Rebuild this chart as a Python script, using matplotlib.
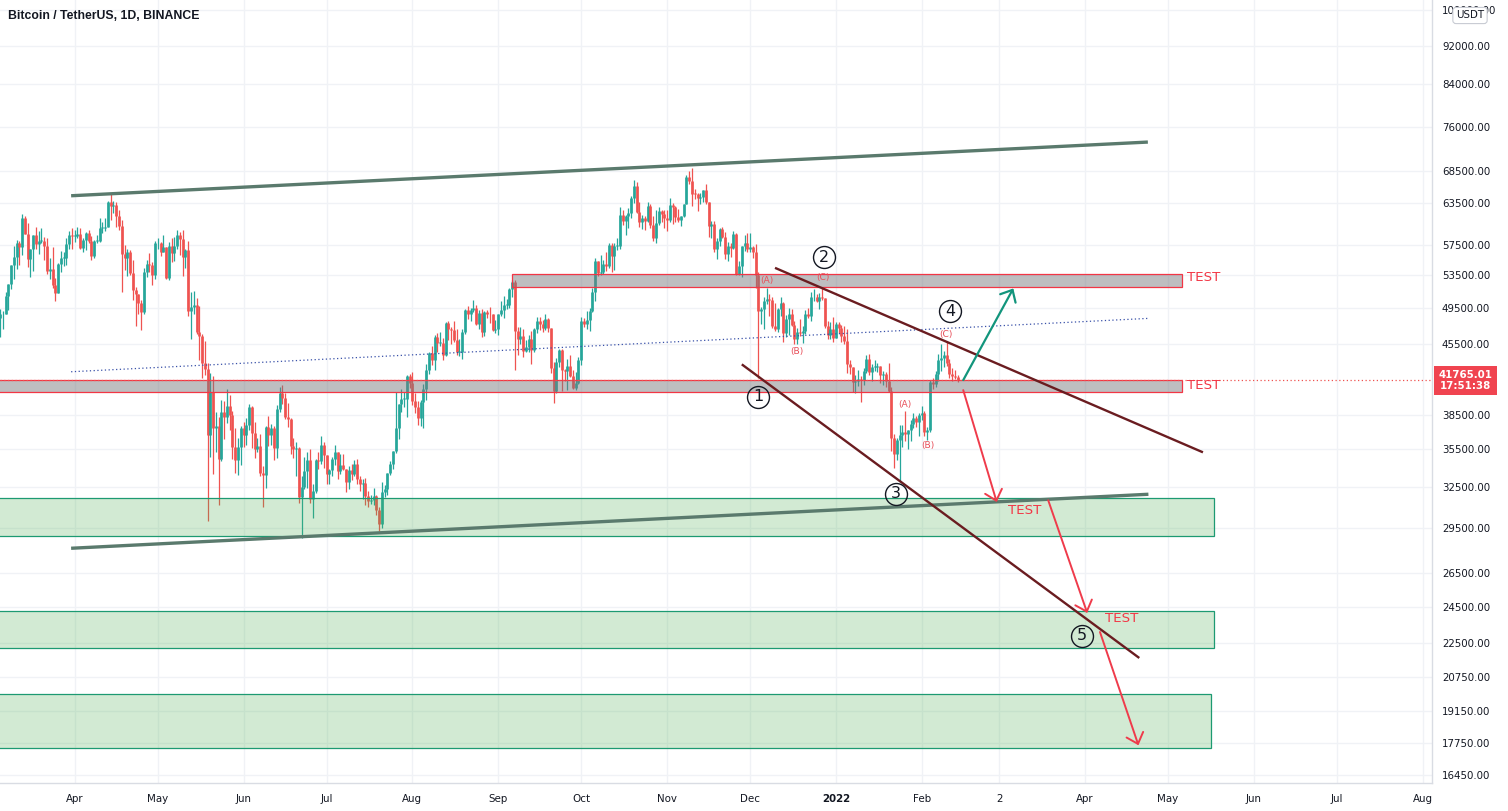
import numpy as np
import pandas as pd
import matplotlib
matplotlib.use("Agg")
import matplotlib.pyplot as plt
from matplotlib.patches import Rectangle
from matplotlib.ticker import NullLocator, NullFormatter

# ---------------- data (daily BTC/USDT, prices in thousands USDT) ----------------
start_date = "2021-03-05"
ref_date = "2021-04-01"   # x = days since this date

opens = [
    # Mar 5-31
    48.4, 48.8, 48.9, 51.0, 52.4, 54.9, 55.9, 57.8, 57.2, 61.2, 59.0, 55.6, 56.9, 58.9, 57.6, 58.0, 58.1, 57.4, 54.1, 54.3, 52.3, 51.3, 55.0, 55.8, 55.8, 57.6, 58.8,
    # Apr
    58.7, 58.7, 59.0, 57.1, 58.2, 59.1, 58.0, 56.0, 58.1, 58.1, 59.8, 59.9, 60.0, 63.6, 63.0, 63.2, 61.5, 60.1, 56.3, 55.7, 56.5, 53.8, 51.7, 51.2, 50.1, 49.1, 54.0, 55.0, 54.9, 53.6,
    # May
    57.7, 57.8, 56.6, 57.2, 53.2, 57.4, 56.4, 57.4, 58.8, 58.3, 55.9, 56.8, 49.2, 49.7, 49.9, 46.8, 46.4, 43.5, 42.9, 36.7, 40.6, 37.3, 37.5, 34.7, 38.8, 38.3, 39.3, 38.5, 35.7, 34.6, 35.7,
    # Jun
    37.3, 36.7, 37.6, 39.2, 36.9, 35.5, 35.8, 33.6, 33.4, 37.4, 36.7, 37.3, 35.6, 39.0, 40.5, 40.1, 38.3, 38.1, 35.8, 35.5, 35.6, 31.7, 32.5, 33.7, 34.6, 31.6, 32.2, 34.6, 34.5, 35.9,
    # Jul
    35.0, 33.5, 33.8, 34.7, 35.3, 33.7, 34.2, 33.9, 32.9, 33.8, 33.5, 34.3, 33.1, 32.7, 32.8, 31.8, 31.4, 31.5, 31.8, 30.8, 29.8, 32.1, 32.3, 33.6, 34.3, 35.4, 37.3, 39.5, 40.0, 40.0, 42.2,
    # Aug
    41.5, 39.8, 39.2, 38.2, 39.7, 40.9, 42.8, 44.6, 43.8, 46.3, 45.6, 45.6, 44.4, 47.8, 47.1, 47.0, 45.9, 44.7, 44.7, 46.8, 49.3, 48.9, 49.3, 49.5, 47.7, 49.0, 46.8, 49.1, 48.9, 48.8, 47.0,
    # Sep
    47.2, 48.8, 49.3, 49.9, 49.9, 51.8, 52.7, 46.9, 46.1, 46.4, 44.8, 45.2, 46.0, 44.9, 47.1, 48.1, 47.7, 47.3, 48.3, 47.3, 43.0, 40.7, 43.6, 44.9, 42.8, 42.7, 43.2, 42.2, 41.0, 41.5,
    # Oct
    43.8, 48.1, 47.7, 48.2, 49.2, 51.5, 55.3, 53.8, 54.0, 55.0, 54.7, 57.5, 56.0, 57.4, 57.4, 61.7, 60.9, 61.5, 62.0, 64.3, 66.0, 62.2, 60.7, 61.3, 60.9, 63.1, 60.3, 58.5, 60.6, 62.3, 61.9,
    # Nov
    61.3, 61.0, 63.2, 62.9, 61.4, 61.0, 61.5, 63.3, 67.5, 66.9, 64.9, 64.8, 64.2, 64.4, 65.5, 63.6, 60.1, 60.4, 56.9, 58.1, 59.7, 58.6, 56.3, 57.3, 57.1, 59.0, 53.7, 54.7, 57.3, 57.8,
    # Dec
    57.0, 57.2, 56.5, 53.6, 49.2, 49.4, 50.4, 50.6, 50.5, 47.5, 47.1, 49.4, 50.1, 46.7, 48.3, 48.9, 47.6, 46.1, 46.8, 46.7, 46.9, 48.9, 48.6, 50.8, 50.8, 50.4, 50.8, 50.7, 47.5, 46.5, 47.1,
    # Jan 2022
    46.2, 47.7, 47.3, 46.4, 45.8, 43.4, 43.1, 41.6, 41.7, 41.9, 41.8, 42.7, 43.9, 42.6, 43.1, 43.1, 43.2, 42.3, 42.4, 41.7, 40.7, 36.5, 35.1, 36.3, 36.7, 37.0, 36.8, 37.2, 37.7, 38.2, 37.9,
    # Feb 1-14
    38.5, 38.7, 37.0, 37.2, 41.6, 41.4, 42.4, 43.8, 44.0, 44.4, 43.5, 42.4, 42.2, 42.1,
]
highs = [
    49.4, 49.2, 51.5, 52.4, 54.9, 57.4, 58.2, 58.1, 61.8, 61.6, 60.6, 56.9, 58.9, 60.0, 59.4, 59.9, 58.6, 58.4, 55.8, 57.2, 53.2, 55.1, 56.7, 56.6, 58.4, 59.4, 59.8,
    59.5, 60.0, 59.8, 58.5, 59.3, 59.5, 58.7, 58.2, 58.9, 61.2, 60.7, 61.2, 63.8, 64.9, 63.8, 63.6, 62.5, 61.0, 57.5, 57.0, 56.8, 55.5, 52.1, 51.2, 50.5, 54.4, 55.5, 56.4, 55.2, 58.0,
    58.5, 57.9, 58.9, 57.2, 57.9, 58.4, 58.6, 59.5, 59.3, 59.6, 57.0, 58.0, 51.4, 51.6, 50.7, 49.8, 46.6, 45.8, 43.5, 42.5, 42.2, 38.8, 38.3, 39.9, 39.8, 40.9, 40.4, 38.9, 37.3, 36.5, 37.5,
    37.9, 38.2, 39.5, 39.3, 37.9, 36.5, 36.8, 34.1, 37.5, 38.4, 37.7, 37.5, 39.4, 41.1, 41.3, 40.5, 39.6, 38.2, 36.5, 36.1, 35.7, 33.3, 34.9, 35.3, 35.5, 32.7, 34.7, 35.3, 36.6, 36.1,
    35.0, 33.9, 34.9, 35.9, 35.3, 35.1, 35.1, 33.9, 34.1, 34.3, 34.6, 34.7, 33.3, 33.1, 33.2, 32.2, 31.9, 32.4, 31.9, 31.0, 32.9, 32.6, 33.6, 34.5, 35.4, 40.6, 39.5, 40.9, 40.6, 42.3, 42.4,
    42.6, 40.5, 39.8, 39.9, 41.4, 43.4, 44.7, 45.3, 46.5, 46.7, 46.8, 46.2, 47.9, 48.1, 47.4, 48.0, 47.2, 46.0, 47.1, 49.4, 49.8, 49.5, 50.5, 49.9, 49.3, 49.4, 49.2, 49.3, 49.7, 48.9, 48.2,
    48.9, 50.4, 51.0, 50.6, 51.9, 52.9, 52.9, 47.4, 47.4, 47.1, 45.9, 46.5, 46.9, 47.3, 48.5, 48.5, 48.2, 48.8, 48.4, 47.3, 43.6, 44.0, 45.0, 45.0, 42.9, 43.9, 44.4, 42.8, 42.6, 44.1,
    48.5, 48.4, 49.2, 49.5, 51.9, 55.8, 55.3, 56.1, 55.5, 56.6, 57.8, 57.7, 57.7, 58.5, 62.9, 62.4, 61.7, 62.7, 64.5, 67.0, 66.7, 63.7, 61.7, 61.5, 63.7, 63.3, 61.5, 62.5, 62.9, 62.4, 62.4,
    62.4, 64.3, 63.5, 63.1, 62.6, 61.6, 63.3, 67.8, 68.5, 69.0, 65.6, 65.0, 65.0, 65.5, 66.4, 63.6, 60.8, 60.9, 58.4, 59.8, 60.0, 59.3, 57.9, 57.8, 59.4, 59.2, 55.3, 57.4, 58.9, 59.2,
    59.1, 57.4, 57.6, 53.9, 49.7, 50.9, 51.9, 51.2, 50.8, 50.1, 49.5, 50.8, 50.2, 48.7, 49.5, 49.4, 48.0, 47.3, 48.3, 47.5, 49.3, 49.6, 51.4, 51.8, 51.2, 51.3, 52.0, 50.7, 48.1, 47.9, 48.5,
    47.9, 47.9, 47.6, 47.5, 47.1, 43.8, 43.1, 42.3, 42.8, 42.2, 43.0, 44.3, 44.5, 43.4, 43.8, 43.5, 43.2, 42.7, 42.6, 43.5, 41.1, 36.8, 36.5, 37.6, 37.6, 38.9, 37.2, 38.0, 38.7, 38.4, 38.7,
    39.3, 38.9, 37.4, 41.8, 42.0, 42.7, 44.5, 45.5, 44.8, 45.8, 43.9, 43.0, 42.8, 42.3,
]
lows = [
    46.3, 47.1, 48.9, 49.3, 51.8, 53.0, 54.3, 54.9, 56.1, 59.0, 54.6, 53.3, 54.1, 57.0, 56.3, 57.8, 55.5, 53.7, 53.0, 52.0, 50.4, 51.3, 53.9, 54.7, 54.9, 57.0, 56.9,
    57.9, 58.5, 57.0, 56.5, 56.8, 57.7, 55.5, 55.7, 57.7, 57.9, 59.2, 59.4, 60.0, 61.0, 62.0, 60.0, 59.6, 51.5, 54.2, 53.4, 53.6, 50.5, 47.5, 48.8, 47.0, 48.8, 53.3, 53.9, 52.3, 53.0,
    57.0, 56.0, 56.5, 53.0, 52.9, 55.2, 55.4, 56.9, 56.2, 53.4, 54.4, 48.6, 46.0, 48.8, 46.6, 43.8, 42.0, 42.3, 30.0, 34.9, 33.5, 35.3, 31.1, 34.5, 36.4, 37.8, 37.2, 34.7, 33.6, 33.4, 34.2,
    35.7, 35.9, 37.2, 35.6, 34.8, 35.3, 33.3, 31.0, 32.4, 35.8, 35.9, 34.6, 34.8, 38.8, 39.5, 38.1, 37.4, 35.1, 34.8, 33.3, 31.3, 28.8, 32.3, 32.4, 31.3, 30.2, 32.0, 33.9, 34.3, 34.0,
    32.7, 32.7, 33.3, 34.2, 33.1, 33.5, 33.8, 32.1, 32.3, 33.0, 33.3, 32.7, 32.2, 31.6, 31.1, 31.0, 31.2, 31.1, 30.4, 29.3, 29.5, 31.7, 31.9, 33.4, 33.9, 35.2, 36.4, 38.8, 39.2, 38.3, 41.0,
    39.4, 38.7, 37.6, 37.5, 37.3, 39.9, 42.4, 43.3, 42.8, 44.7, 45.3, 43.8, 44.2, 45.9, 45.5, 45.7, 44.4, 44.2, 43.9, 46.6, 48.3, 48.1, 49.1, 47.6, 47.1, 46.3, 46.4, 48.4, 47.8, 46.9, 46.7,
    46.5, 48.6, 48.4, 49.4, 49.5, 50.9, 42.8, 44.4, 45.5, 44.1, 44.7, 44.7, 43.4, 44.7, 46.7, 47.0, 46.8, 47.0, 46.8, 42.5, 39.6, 40.5, 43.1, 40.7, 41.7, 40.8, 42.1, 40.9, 40.8, 41.4,
    43.3, 47.4, 47.1, 46.9, 49.1, 50.4, 53.4, 53.6, 53.7, 54.1, 54.4, 53.9, 54.2, 56.8, 56.9, 60.2, 58.9, 59.8, 61.3, 63.5, 62.0, 60.0, 59.7, 59.5, 60.7, 59.8, 58.0, 57.8, 60.2, 60.7, 59.9,
    59.4, 60.7, 60.4, 60.7, 60.7, 60.1, 61.4, 63.3, 66.4, 63.0, 64.1, 62.3, 63.4, 63.6, 63.4, 58.6, 58.4, 56.5, 55.6, 57.4, 58.5, 55.6, 55.3, 55.9, 57.0, 53.5, 53.6, 53.3, 56.7, 56.5,
    56.5, 55.8, 52.0, 42.0, 47.7, 47.1, 50.0, 48.6, 47.3, 46.9, 46.8, 48.6, 45.7, 46.3, 46.5, 47.5, 45.5, 45.5, 46.4, 45.6, 46.6, 48.4, 48.0, 50.4, 50.2, 49.4, 50.5, 47.3, 46.1, 46.1, 45.7,
    46.2, 46.7, 45.7, 45.5, 42.5, 42.4, 40.6, 40.5, 41.2, 39.7, 41.3, 42.5, 42.3, 41.7, 42.7, 42.6, 41.5, 41.3, 41.1, 40.6, 35.4, 34.0, 34.6, 32.9, 35.7, 36.2, 35.5, 36.2, 37.3, 37.4, 36.6,
    38.0, 36.6, 36.3, 37.0, 40.9, 41.1, 41.7, 42.7, 43.1, 43.2, 42.0, 41.7, 41.9, 41.6,
]
closes = [
    48.8, 48.9, 51.0, 52.4, 54.9, 55.9, 57.8, 57.2, 61.2, 59.0, 55.6, 56.9, 58.9, 57.6, 58.0, 58.1, 57.4, 54.1, 54.3, 52.3, 51.3, 55.0, 55.8, 55.8, 57.6, 58.8, 58.7,
    58.7, 59.0, 57.1, 58.2, 59.1, 58.0, 56.0, 58.1, 58.1, 59.8, 59.9, 60.0, 63.6, 63.0, 63.2, 61.5, 60.1, 56.3, 55.7, 56.5, 53.8, 51.7, 51.2, 50.1, 49.1, 54.0, 55.0, 54.9, 53.6, 57.7,
    57.8, 56.6, 57.2, 53.2, 57.4, 56.4, 57.4, 58.8, 58.3, 55.9, 56.8, 49.2, 49.7, 49.9, 46.8, 46.4, 43.5, 42.9, 36.7, 40.6, 37.3, 37.5, 34.7, 38.8, 38.3, 39.3, 38.5, 35.7, 34.6, 35.7, 37.3,
    36.7, 37.6, 39.2, 36.9, 35.5, 35.8, 33.6, 33.4, 37.4, 36.7, 37.3, 35.6, 39.0, 40.5, 40.1, 38.3, 38.1, 35.8, 35.5, 35.6, 31.7, 32.5, 33.7, 34.6, 31.6, 32.2, 34.6, 34.5, 35.9, 35.0,
    33.5, 33.8, 34.7, 35.3, 33.7, 34.2, 33.9, 32.9, 33.8, 33.5, 34.3, 33.1, 32.7, 32.8, 31.8, 31.4, 31.5, 31.8, 30.8, 29.8, 32.1, 32.3, 33.6, 34.3, 35.4, 37.3, 39.5, 40.0, 40.0, 42.2, 41.5,
    39.8, 39.2, 38.2, 39.7, 40.9, 42.8, 44.6, 43.8, 46.3, 45.6, 45.6, 44.4, 47.8, 47.1, 47.0, 45.9, 44.7, 44.7, 46.8, 49.3, 48.9, 49.3, 49.5, 47.7, 49.0, 46.8, 49.1, 48.9, 48.8, 47.0, 47.2,
    48.8, 49.3, 49.9, 49.9, 51.8, 52.7, 46.9, 46.1, 46.4, 44.8, 45.2, 46.0, 44.9, 47.1, 48.1, 47.7, 47.3, 48.3, 47.3, 43.0, 40.7, 43.6, 44.9, 42.8, 42.7, 43.2, 42.2, 41.0, 41.5, 43.8,
    48.1, 47.7, 48.2, 49.2, 51.5, 55.3, 53.8, 54.0, 55.0, 54.7, 57.5, 56.0, 57.4, 57.4, 61.7, 60.9, 61.5, 62.0, 64.3, 66.0, 62.2, 60.7, 61.3, 60.9, 63.1, 60.3, 58.5, 60.6, 62.3, 61.9, 61.3,
    61.0, 63.2, 62.9, 61.4, 61.0, 61.5, 63.3, 67.5, 66.9, 64.9, 64.8, 64.2, 64.4, 65.5, 63.6, 60.1, 60.4, 56.9, 58.1, 59.7, 58.6, 56.3, 57.3, 57.1, 59.0, 53.7, 54.7, 57.3, 57.8, 57.0,
    57.2, 56.5, 53.6, 49.2, 49.4, 50.4, 50.6, 50.5, 47.5, 47.1, 49.4, 50.1, 46.7, 48.3, 48.9, 47.6, 46.1, 46.8, 46.7, 46.9, 48.9, 48.6, 50.8, 50.8, 50.4, 50.8, 50.7, 47.5, 46.5, 47.1, 46.2,
    47.7, 47.3, 46.4, 45.8, 43.4, 43.1, 41.6, 41.7, 41.9, 41.8, 42.7, 43.9, 42.6, 43.1, 43.1, 43.2, 42.3, 42.4, 41.7, 40.7, 36.5, 35.1, 36.3, 36.7, 37.0, 36.8, 37.2, 37.7, 38.2, 37.9, 38.5,
    38.7, 37.0, 37.2, 41.6, 41.4, 42.4, 43.8, 44.0, 44.4, 43.5, 42.4, 42.2, 42.1, 41.765,
]
last_price = 41765.01
last_time = "17:51:38"

price_ticks = [100000, 92000, 84000, 76000, 68500, 63500, 57500, 53500, 49500, 45500,
               38500, 35500, 32500, 29500, 26500, 24500, 22500, 20750, 19150, 17750, 16450]
month_dates = ["2021-04-01", "2021-05-01", "2021-06-01", "2021-07-01", "2021-08-01",
               "2021-09-01", "2021-10-01", "2021-11-01", "2021-12-01", "2022-01-01",
               "2022-02-01", "2022-03-01", "2022-04-01", "2022-05-01", "2022-06-01",
               "2022-07-01", "2022-08-01"]
month_labels = ["Apr", "May", "Jun", "Jul", "Aug", "Sep", "Oct", "Nov", "Dec", "2022",
                "Feb", "2", "Apr", "May", "Jun", "Jul", "Aug"]

# ---- drawings: (day offset from ref_date, price) ----
channel_upper = [(-1.3, 64570), (387.7, 73290)]
channel_lower = [(-1.3, 28110), (387.9, 31930)]
mid_dotted = [(-1.3, 42630), (387.9, 48350)]
wedge_upper = [(253.0, 54470), (407.6, 35250)]
wedge_lower = [(241.0, 43380), (384.6, 21700)]
grey_zones = [(158.0, 399.9, 52090, 53640), (-28.0, 399.9, 40610, 41800)]
green_zones = [(-28.0, 411.7, 28910, 31650), (-28.0, 411.7, 22240, 24240),
               (-28.0, 410.6, 17550, 19950)]
test_labels = [(401.8, 53290), (401.8, 41310), (337.2, 30710), (372.2, 23830)]
wave_circles = [("1", 247.0, 40180), ("2", 270.7, 55830), ("3", 296.7, 31980),
                ("4", 316.2, 49190), ("5", 364.0, 22860)]
sub_waves = [("(A)", 250.0, 52920), ("(C)", 270.2, 53200), ("(B)", 260.8, 44690),
             ("(A)", 300.0, 39490), ("(B)", 308.2, 35850), ("(C)", 314.8, 46590)]
green_arrow = [(321.0, 41800), (339.1, 51890)]
red_arrows = [[(321.0, 40820), (333.1, 31350)],
              [(351.7, 31480), (365.8, 24130)],
              [(370.4, 23070), (384.3, 17660)]]

# ---------------- style ----------------
UP = "#26a69a"
DOWN = "#ef5350"
TXT = "#131722"
GRID = "#f0f2f6"
AXLINE = "#d9dce3"
RED = "#f23645"

W, H = 1508, 811
fig = plt.figure(figsize=(W / 100, H / 100), dpi=100, facecolor="white")
ax = fig.add_axes([0, 28 / H, 1432 / W, 783 / H])
ax.set_facecolor("white")
ax.set_yscale("log")
ax.set_xlim(-26.99, 490.35)
ax.set_ylim(16157, 102470)

# candles
ref = pd.Timestamp(ref_date)
dates = pd.date_range(start_date, periods=len(closes), freq="D")
xd = np.asarray((dates - ref).days, dtype=float)
o = np.array(opens) * 1000
h = np.array(highs) * 1000
l = np.array(lows) * 1000
c = np.array(closes) * 1000
cols = np.where(c >= o, UP, DOWN)
ax.vlines(xd, l, h, colors=cols, lw=0.9, zorder=2)
bot = np.minimum(o, c)
top = np.maximum(np.maximum(o, c), bot * 1.002)
ax.vlines(xd, bot, top, colors=cols, lw=1.95, zorder=2)

# zones
for x0, x1, y0, y1 in grey_zones:
    ax.add_patch(Rectangle((x0, y0), x1 - x0, y1 - y0, fc=(0.47, 0.47, 0.49, 0.48),
                           ec=RED, lw=0.9, zorder=3))
for x0, x1, y0, y1 in green_zones:
    ax.add_patch(Rectangle((x0, y0), x1 - x0, y1 - y0, fc=(0.298, 0.686, 0.314, 0.25),
                           ec="#1d9a72", lw=0.9, zorder=3))

# current price line
ax.axhline(last_price, color=DOWN, lw=0.9, ls=(0, (1, 2)), zorder=3.5)

# lines
def seg(pts, **kw):
    ax.plot([p[0] for p in pts], [p[1] for p in pts], solid_capstyle="butt", **kw)

seg(channel_upper, color="#5a7a6d", lw=2.4, zorder=4)
seg(channel_lower, color="#5a7a6d", lw=2.4, zorder=4)
seg(mid_dotted, color="#3850a8", lw=0.9, ls=(0, (1, 2)), zorder=4)
seg(wedge_upper, color="#6a1c20", lw=1.7, zorder=4)
seg(wedge_lower, color="#6a1c20", lw=1.7, zorder=4)

def arrow(pts, color, lw):
    ax.annotate("", xy=pts[1], xytext=pts[0],
                arrowprops=dict(arrowstyle="->,head_length=0.5,head_width=0.45",
                                color=color, lw=lw, shrinkA=0, shrinkB=0,
                                mutation_scale=14), zorder=5)

arrow(green_arrow, "#12957c", 1.6)
for pts in red_arrows:
    arrow(pts, "#ef3b4b", 1.4)

# labels
for x, y in test_labels:
    ax.text(x, y, "TEST", color=RED, fontsize=9.6, ha="left", va="center", zorder=6)
for s, x, y in wave_circles:
    ax.plot([x], [y], marker="o", ms=15.8, mfc="none", mec=TXT, mew=1.0, zorder=6)
    ax.text(x, y, s, color=TXT, fontsize=11.5, ha="center", va="center", zorder=6)
for s, x, y in sub_waves:
    ax.text(x, y, s, color="#e8505b", fontsize=6.6, ha="center", va="center", zorder=6)

# axes
ax.set_axisbelow(True)
ax.yaxis.tick_right()
ax.set_yticks(price_ticks)
ax.set_yticklabels([f"{v:.2f}" for v in price_ticks])
ax.yaxis.set_minor_locator(NullLocator())
ax.yaxis.set_minor_formatter(NullFormatter())
xt = [(pd.Timestamp(d) - ref).days for d in month_dates]
ax.set_xticks(xt)
ax.set_xticklabels(month_labels)
for lab in ax.get_xticklabels():
    if lab.get_text() == "2022":
        lab.set_fontweight("bold")
ax.tick_params(axis="both", length=0, labelsize=7.4, labelcolor=TXT)
ax.tick_params(axis="y", pad=7.2)
ax.tick_params(axis="x", pad=8)
ax.grid(True, color=GRID, lw=1.0)
for s in ["left", "top"]:
    ax.spines[s].set_visible(False)
for s in ["right", "bottom"]:
    ax.spines[s].set_color(AXLINE)
    ax.spines[s].set_linewidth(1.0)

# price badge
ax.annotate(f"{last_price:.2f}\n{last_time}", xy=(1.0, last_price),
            xycoords=("axes fraction", "data"), xytext=(24, 0),
            textcoords="offset points", ha="center", va="center", color="white",
            fontsize=7.4, fontweight="bold", linespacing=1.15, annotation_clip=False,
            bbox=dict(boxstyle="square,pad=0.42", fc="#f04450", ec="none"))

# currency badge (covers the middle of the top price label, as in the reference)
fig.text(1470 / W, 1 - 15.5 / H, "USDT", ha="center", va="center", fontsize=7.4,
         color=TXT, bbox=dict(boxstyle="round,pad=0.3,rounding_size=0.3", fc="white",
                              ec="#c8cbd3", lw=0.8))

# title
fig.text(8 / W, 1 - 16 / H, "Bitcoin / TetherUS, 1D, BINANCE", ha="left", va="center",
         fontsize=8.8, fontweight="bold", family="Liberation Sans", color=TXT)

fig.savefig("out.png", dpi=100, facecolor="white")
